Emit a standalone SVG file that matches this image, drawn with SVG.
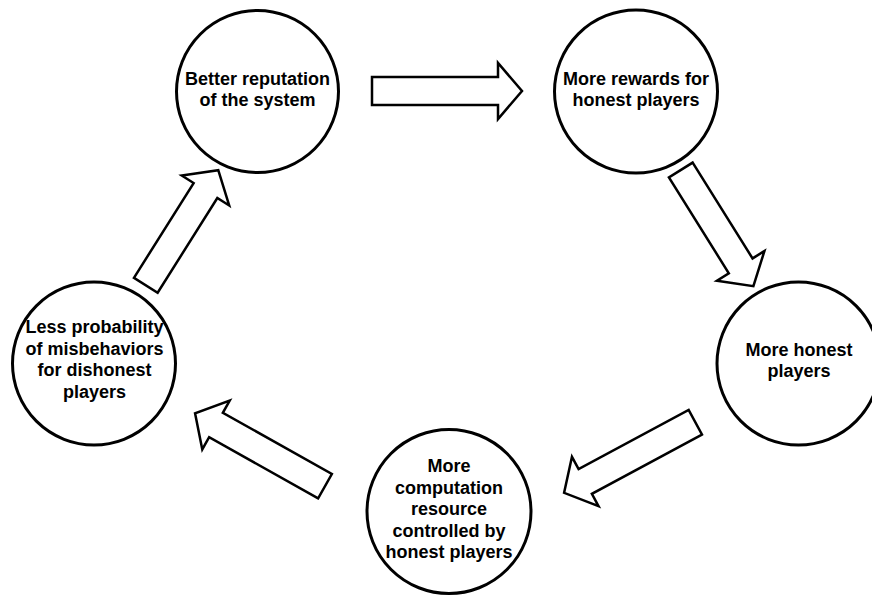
<svg xmlns="http://www.w3.org/2000/svg" width="872" height="596" viewBox="0 0 872 596">
  <style>
    .node circle { fill: #ffffff; stroke: #000000; stroke-width: 3; }
    .node text { font-family: "Liberation Sans", Arial, sans-serif; font-weight: bold; font-size: 18px; fill: #000000; text-anchor: middle; }
    .arrow { fill: #ffffff; stroke: #000000; stroke-width: 2.5; stroke-linejoin: miter; }
  </style>
  <rect width="872" height="596" fill="#ffffff"/>

  <!-- block arrows between the stages of the cycle -->
  <g id="connectors">
    <polygon class="arrow" transform="translate(372,91)" points="0,-14 126,-14 126,-28 150,0 126,28 126,14 0,14"/>
    <polygon class="arrow" transform="translate(680.8,170) rotate(58)" points="0,-14 113,-14 113,-28 137,0 113,28 113,14 0,14"/>
    <polygon class="arrow" transform="translate(695.3,422.2) rotate(151.7)" points="0,-14 125,-14 125,-28 149,0 125,28 125,14 0,14"/>
    <polygon class="arrow" transform="translate(325,486.2) rotate(209.3)" points="0,-14 125,-14 125,-28 149,0 125,28 125,14 0,14"/>
    <polygon class="arrow" transform="translate(145.8,285.3) rotate(-57.8)" points="0,-14 112,-14 112,-28 136,0 112,28 112,14 0,14"/>
  </g>

  <g id="reputation" class="node">
    <circle cx="257.5" cy="91.5" r="81"/>
    <text x="257.5" y="85">Better reputation</text>
    <text x="257.5" y="106">of the system</text>
  </g>

  <g id="rewards" class="node">
    <circle cx="636" cy="91.5" r="81.5"/>
    <text x="636" y="85">More rewards for</text>
    <text x="636" y="106">honest players</text>
  </g>

  <g id="honest-players" class="node">
    <circle cx="798.5" cy="363.5" r="81.5"/>
    <text x="799" y="356">More honest</text>
    <text x="799" y="377">players</text>
  </g>

  <g id="computation" class="node">
    <circle cx="449" cy="511.5" r="82"/>
    <text x="449" y="472">More</text>
    <text x="449" y="493.5">computation</text>
    <text x="449" y="515">resource</text>
    <text x="449" y="536.5">controlled by</text>
    <text x="449" y="558">honest players</text>
  </g>

  <g id="misbehavior" class="node">
    <circle cx="94" cy="363.5" r="81.5"/>
    <text x="94.5" y="333">Less probability</text>
    <text x="94.5" y="354.5">of misbehaviors</text>
    <text x="94.5" y="376">for dishonest</text>
    <text x="94.5" y="397.5">players</text>
  </g>
</svg>
